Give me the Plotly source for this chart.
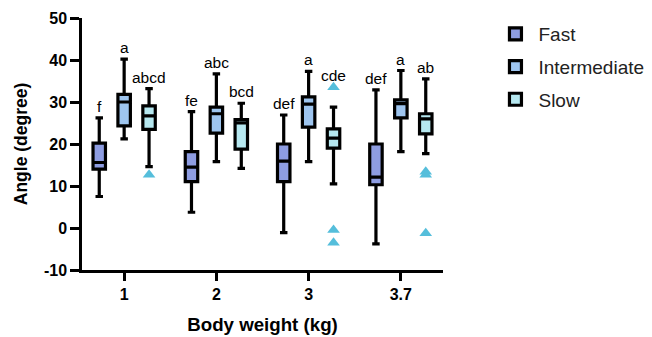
import plotly.graph_objects as go

categories = ["1", "2", "3", "3.7"]
series_names = ["Fast", "Intermediate", "Slow"]

# box statistics per series: [lower whisker, q1, median, q3, upper whisker]
fast_low = [7.5, 3.75, -1.1, -3.8]
fast_q1 = [14.0, 11.05, 11.05, 10.3]
fast_med = [15.6, 14.5, 15.9, 12.1]
fast_q3 = [20.2, 18.2, 20.0, 20.0]
fast_high = [26.2, 27.7, 26.9, 32.9]

inter_low = [21.2, 15.8, 15.8, 18.2]
inter_q1 = [24.3, 22.6, 24.0, 26.2]
inter_med = [30.0, 27.2, 29.5, 29.6]
inter_q3 = [31.8, 28.8, 31.2, 30.5]
inter_high = [40.2, 36.7, 37.3, 37.5]

slow_low = [14.6, 14.2, 10.5, 17.7]
slow_q1 = [23.5, 18.8, 19.0, 22.4]
slow_med = [26.7, 25.0, 21.4, 26.0]
slow_q3 = [29.1, 25.8, 23.6, 27.2]
slow_high = [33.2, 29.7, 28.8, 35.5]

# outliers of the Slow series per category
slow_outliers = [[12.7], [], [33.5, -0.5, -3.5], [13.4, 12.7, -1.25]]

# significance letters per series per category
fast_letters = ["f", "fe", "def", "def"]
inter_letters = ["a", "abc", "a", "a"]
slow_letters = ["abcd", "bcd", "cde", "ab"]

fill_colors = ["#8E9DE2", "#9EC5EF", "#B6E8F0"]
outlier_color = "#55BEDB"
FONT = "Arial, Liberation Sans, sans-serif"

offsets = [-0.27, 0.0, 0.27]
idx = list(range(len(categories)))

stats = [
    (fast_low, fast_q1, fast_med, fast_q3, fast_high, fast_letters),
    (inter_low, inter_q1, inter_med, inter_q3, inter_high, inter_letters),
    (slow_low, slow_q1, slow_med, slow_q3, slow_high, slow_letters),
]

fig = go.Figure()
annotations = []
for s, (name, (lo, q1, med, q3, hi, letters)) in enumerate(zip(series_names, stats)):
    xs = [i + offsets[s] for i in idx]
    fig.add_trace(go.Box(
        name=name, x=xs, q1=q1, median=med, q3=q3,
        lowerfence=lo, upperfence=hi,
        width=0.135, whiskerwidth=0.6,
        fillcolor=fill_colors[s],
        line=dict(color="black", width=3.2),
        boxpoints=False, hoverinfo="skip",
        legendgroup=name,
    ))
    for i in idx:
        top = hi[i]
        if s == 2 and slow_outliers[i]:
            top = max(top, max(slow_outliers[i]))
        annotations.append(dict(
            x=xs[i], y=top, xref="x", yref="y", text=letters[i],
            showarrow=False, yanchor="bottom", yshift=1,
            font=dict(family=FONT, size=15.5, color="black"),
        ))

ox, oy = [], []
for i, vals in enumerate(slow_outliers):
    for v in vals:
        ox.append(i + offsets[2])
        oy.append(v)
fig.add_trace(go.Scatter(
    x=ox, y=oy, mode="markers", showlegend=False, hoverinfo="skip",
    marker=dict(symbol="triangle-up", size=11, color=outlier_color),
))

fig.update_layout(
    width=652, height=337,
    margin=dict(l=82, r=209, t=18, b=67, autoexpand=False),
    paper_bgcolor="white", plot_bgcolor="white",
    boxmode="overlay",
    showlegend=True,
    legend=dict(
        x=1.137, y=1.012, xanchor="left", yanchor="top",
        font=dict(family=FONT, size=19, color="#222"),
        tracegroupgap=5, itemwidth=36,
        bgcolor="rgba(0,0,0,0)",
    ),
    annotations=annotations,
    font=dict(family=FONT, color="black"),
)
fig.update_xaxes(
    range=[-0.457, 3.457], automargin=False,
    tickmode="array", tickvals=idx, ticktext=[f"<b>{c}</b>" for c in categories],
    showline=True, linecolor="black", linewidth=2.5,
    ticks="outside", ticklen=8, tickwidth=2.5, tickcolor="black",
    showgrid=False, zeroline=False,
    tickfont=dict(family=FONT, size=16, color="black"),
    title=dict(text="<b>Body weight (kg)</b>", font=dict(family=FONT, size=18.7, color="black"), standoff=16),
)
fig.update_yaxes(
    range=[-10, 50], automargin=False,
    tickvals=[-10, 0, 10, 20, 30, 40, 50],
    ticktext=["<b>-10</b>", "<b>0</b>", "<b>10</b>", "<b>20</b>", "<b>30</b>", "<b>40</b>", "<b>50</b>"],
    showline=True, linecolor="black", linewidth=2.5,
    ticks="outside", ticklen=9, tickwidth=2.5, tickcolor="black",
    showgrid=False, zeroline=False,
    tickfont=dict(family=FONT, size=16, color="black"),
    title=dict(text="<b>Angle (degree)</b>", font=dict(family=FONT, size=17.5, color="black"), standoff=12),
)

fig.write_html("out.html")
